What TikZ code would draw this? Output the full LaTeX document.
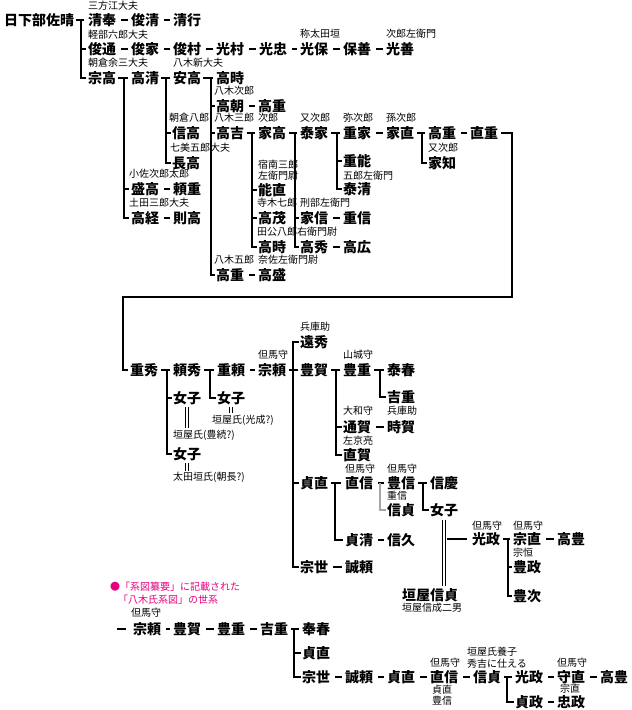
\documentclass[tikz,border=0pt]{standalone}
\usepackage{fontspec}
\setmainfont{Noto Sans CJK JP}
\definecolor{notepink}{RGB}{228,0,127}

\begin{document}
\begin{tikzpicture}[x=1pt,y=-1pt,
    nm/.style={inner sep=0pt,anchor=west,font=\fontsize{14}{14}\selectfont\bfseries},
    lbl/.style={inner sep=0pt,anchor=west,font=\fontsize{10}{10}\selectfont},
    note/.style={lbl,text=notepink},
    bar/.style={line width=2.4pt},
    tie/.style={line width=2.4pt,shorten <=5pt,shorten >=3pt},
    marry/.style={double,double distance=2.2pt,line width=0.7pt},
    grayln/.style={line width=1.8pt,draw=black!35}]
    \useasboundingbox (0,0) rectangle (632,710);

    \node[nm] (saharu) at (4,20) {日下部佐晴};
    \node[nm] (kiyotomo) at (88,20) {清奉};
    \node[nm] (toshikiyo) at (131,20) {俊清};
    \node[nm] (kiyoyuki) at (173,20) {清行};
    \node[nm] (toshimichi) at (88,49) {俊通};
    \node[nm] (toshiie) at (131,49) {俊家};
    \node[nm] (toshimura) at (173,49) {俊村};
    \node[nm] (mitsumura) at (216,49) {光村};
    \node[nm] (mitsutada) at (259,49) {光忠};
    \node[nm] (mitsuyasu) at (300,49) {光保};
    \node[nm] (yasuyoshi) at (343,49) {保善};
    \node[nm] (mitsuyoshi) at (386,49) {光善};
    \node[nm] (munetaka) at (88,78) {宗高};
    \node[nm] (takakiyo) at (131,78) {高清};
    \node[nm] (yasutaka) at (173,78) {安高};
    \node[nm] (takatoki) at (216,78) {高時};
    \node[nm] (moritaka) at (131,189) {盛高};
    \node[nm] (yorishige) at (173,189) {頼重};
    \node[nm] (takatsune) at (131,218) {高経};
    \node[nm] (noritaka) at (173,218) {則高};
    \node[nm] (nobutaka) at (172,133) {信高};
    \node[nm] (nagataka) at (172,163) {長高};
    \node[nm] (takatomo) at (216,106) {高朝};
    \node[nm] (takashigeA) at (258,106) {高重};
    \node[nm] (takayoshi) at (216,133) {高吉};
    \node[nm] (takashigeB) at (216,275) {高重};
    \node[nm] (takamori) at (258,275) {高盛};
    \node[nm] (ietaka) at (258,133) {家高};
    \node[nm] (yoshinao) at (258,190) {能直};
    \node[nm] (takamochi) at (258,218) {高茂};
    \node[nm] (takatokiB) at (258,247) {高時};
    \node[nm] (yasuie) at (300,133) {泰家};
    \node[nm] (ienobu) at (300,218) {家信};
    \node[nm] (shigenobu) at (343,218) {重信};
    \node[nm] (takahide) at (300,247) {高秀};
    \node[nm] (takahiro) at (343,247) {高広};
    \node[nm] (shigeie) at (343,133) {重家};
    \node[nm] (shigeyoshi) at (343,161) {重能};
    \node[nm] (yasukiyo) at (343,189) {泰清};
    \node[nm] (ienao) at (386,133) {家直};
    \node[nm] (takashigeC) at (428,133) {高重};
    \node[nm] (naoshige) at (470,133) {直重};
    \node[nm] (ietomo) at (428,163) {家知};

    \node[lbl] (l1) at (88,6) {三方江大夫};
    \node[lbl] (l2) at (88,35) {軽部六郎大夫};
    \node[lbl] (l3) at (300,34) {称太田垣};
    \node[lbl] (l4) at (386,34) {次郎左衛門};
    \node[lbl] (l5) at (88,63) {朝倉余三大夫};
    \node[lbl] (l6) at (173,63) {八木新大夫};
    \node[lbl] (l7) at (214,91) {八木次郎};
    \node[lbl] (l8) at (169,118) {朝倉八郎};
    \node[lbl] (l9) at (214,118) {八木三郎};
    \node[lbl] (l10) at (258,118) {次郎};
    \node[lbl] (l11) at (300,118) {又次郎};
    \node[lbl] (l12) at (343,118) {弥次郎};
    \node[lbl] (l13) at (386,118) {孫次郎};
    \node[lbl] (l14) at (170,148) {七美五郎大夫};
    \node[lbl] (l15) at (428,148) {又次郎};
    \node[lbl] (l16) at (258,165) {宿南三郎};
    \node[lbl] (l17) at (258,176) {左衛門尉};
    \node[lbl] (l18) at (129,174) {小佐次郎太郎};
    \node[lbl] (l19) at (343,176) {五郎左衛門};
    \node[lbl] (l20) at (129,203) {土田三郎大夫};
    \node[lbl] (l21) at (257,203) {寺木七郎};
    \node[lbl] (l22) at (300,203) {刑部左衛門};
    \node[lbl] (l23) at (257,232) {田公八郎右衛門尉};
    \node[lbl] (l24) at (214,260) {八木五郎};
    \node[lbl] (l25) at (258,260) {奈佐左衛門尉};

    \node[nm] (shigehide) at (130,370) {重秀};
    \node[nm] (yorihide) at (173,370) {頼秀};
    \node[nm] (joshiA) at (173,398) {女子};
    \node[nm] (joshiB) at (173,454) {女子};
    \node[nm] (shigeyori) at (217,370) {重頼};
    \node[nm] (joshiC) at (217,398) {女子};
    \node[nm] (muneyori) at (258,370) {宗頼};
    \node[nm] (tohide) at (300,342) {遠秀};
    \node[nm] (toyoyoshi) at (300,370) {豊賀};
    \node[nm] (sadanao) at (300,483) {貞直};
    \node[nm] (muneyo) at (300,567) {宗世};
    \node[nm] (toyoshige) at (343,370) {豊重};
    \node[nm] (michiyoshi) at (343,427) {通賀};
    \node[nm] (naoyoshi) at (343,455) {直賀};
    \node[nm] (tokiyoshi) at (387,427) {時賀};
    \node[nm] (yasuharu) at (387,370) {泰春};
    \node[nm] (yoshishige) at (387,397) {吉重};
    \node[nm] (naonobu) at (345,483) {直信};
    \node[nm] (sadakiyo) at (345,540) {貞清};
    \node[nm] (nobuhisa) at (387,540) {信久};
    \node[nm] (toyonobu) at (387,483) {豊信};
    \node[nm] (nobusada) at (387,510) {信貞};
    \node[nm] (nobuyoshi) at (430,483) {信慶};
    \node[nm] (joshiD) at (430,510) {女子};
    \node[nm] (kakiya) at (402,595) {垣屋信貞};
    \node[nm] (mitsumasa) at (472,539) {光政};
    \node[nm] (munenao) at (513,539) {宗直};
    \node[nm] (toyomasa) at (513,567) {豊政};
    \node[nm] (toyotsugu) at (513,596) {豊次};
    \node[nm] (takatoyo) at (557,539) {高豊};
    \node[nm] (nobuyori) at (345,567) {誠頼};

    \node[lbl] (m1) at (258,355) {但馬守};
    \node[lbl] (m2) at (300,327) {兵庫助};
    \node[lbl] (m3) at (343,355) {山城守};
    \node[lbl] (m4) at (343,411) {大和守};
    \node[lbl] (m5) at (387,411) {兵庫助};
    \node[lbl] (m6) at (343,441) {左京亮};
    \node[lbl] (spouseA) at (173,435) {垣屋氏(豊続?)};
    \node[lbl] (spouseB) at (212,420) {垣屋氏(光成?)};
    \node[lbl] (spouseC) at (173,477) {太田垣氏(朝長?)};
    \node[lbl] (m7) at (345,469) {但馬守};
    \node[lbl] (m8) at (387,469) {但馬守};
    \node[lbl] (m9) at (387,496) {重信};
    \node[lbl] (m10) at (472,526) {但馬守};
    \node[lbl] (m11) at (513,526) {但馬守};
    \node[lbl] (m12) at (513,553) {宗恒};
    \node[lbl] (m13) at (402,608) {垣屋信成二男};

    \node[note] (note1) at (110,587) {●「系図纂要」に記載された};
    \node[note] (note2) at (118,600) {「八木氏系図」の世系};

    \node[nm] (muneyoriB) at (133,629) {宗頼};
    \node[nm] (toyoyoshiB) at (173,629) {豊賀};
    \node[nm] (toyoshigeB) at (217,629) {豊重};
    \node[nm] (yoshishigeB) at (260,629) {吉重};
    \node[nm] (yasuharuB) at (302,629) {奉春};
    \node[nm] (sadanaoB) at (302,653) {貞直};
    \node[nm] (muneyoB) at (302,677) {宗世};
    \node[nm] (nobuyoriB) at (345,677) {誠頼};
    \node[nm] (sadanaoC) at (387,677) {貞直};
    \node[nm] (naonobuB) at (430,677) {直信};
    \node[nm] (nobusadaB) at (473,677) {信貞};
    \node[nm] (mitsumasaB) at (515,677) {光政};
    \node[nm] (sadamasa) at (515,702) {貞政};
    \node[nm] (morinao) at (557,677) {守直};
    \node[nm] (takatoyoB) at (600,677) {高豊};
    \node[nm] (tadamasa) at (557,702) {忠政};

    \node[lbl] (n1) at (131,613) {但馬守};
    \node[lbl] (n2) at (430,663) {但馬守};
    \node[lbl] (n3) at (432,690) {貞直};
    \node[lbl] (n4) at (432,701) {豊信};
    \node[lbl] (n5) at (467,652) {垣屋氏養子};
    \node[lbl] (n6) at (467,664) {秀吉に仕える};
    \node[lbl] (n7) at (557,663) {但馬守};
    \node[lbl] (n8) at (560,689) {宗直};

    \path[tie] (kiyotomo) edge (toshikiyo);
    \path[tie] (toshikiyo) edge (kiyoyuki);
    \path[tie] (toshimichi) edge (toshiie);
    \path[tie] (toshiie) edge (toshimura);
    \path[tie] (toshimura) edge (mitsumura);
    \path[tie] (mitsumura) edge (mitsutada);
    \path[tie] (mitsutada) edge (mitsuyasu);
    \path[tie] (mitsuyasu) edge (yasuyoshi);
    \path[tie] (yasuyoshi) edge (mitsuyoshi);
    \path[tie] (takatomo) edge (takashigeA);
    \path[tie] (moritaka) edge (yorishige);
    \path[tie] (takatsune) edge (noritaka);
    \path[tie] (takashigeB) edge (takamori);
    \path[tie] (ienobu) edge (shigenobu);
    \path[tie] (takahide) edge (takahiro);
    \path[tie] (shigeie) edge (ienao);
    \path[tie] (takashigeC) edge (naoshige);
    \path[tie] (shigeyori) edge (muneyori);
    \path[tie] (michiyoshi) edge (tokiyoshi);
    \path[tie] (naonobu) edge (toyonobu);
    \path[tie] (sadakiyo) edge (nobuhisa);
    \path[tie] (munenao) edge (takatoyo);
    \path[tie] (muneyo) edge (nobuyori);
    \path[tie] (muneyoriB) edge (toyoyoshiB);
    \path[tie] (toyoyoshiB) edge (toyoshigeB);
    \path[tie] (toyoshigeB) edge (yoshishigeB);
    \path[tie] (muneyoB) edge (nobuyoriB);
    \path[tie] (nobuyoriB) edge (sadanaoC);
    \path[tie] (sadanaoC) edge (naonobuB);
    \path[tie] (naonobuB) edge (nobusadaB);
    \path[tie] (mitsumasaB) edge (morinao);
    \path[tie] (morinao) edge (takatoyoB);
    \path[tie] (sadamasa) edge (tadamasa);
    \coordinate (lead) at (117,629);
    \path[tie,shorten <=0pt,shorten >=7pt] (lead) edge (muneyoriB);

    \coordinate (b0) at (81,20);
    \coordinate (b1) at (124,78);
    \coordinate (b2) at (166,78);
    \coordinate (b3) at (211,78);
    \coordinate (b4) at (252,133);
    \coordinate (b5) at (295,133);
    \coordinate (b6) at (337,133);
    \coordinate (b7) at (422,133);
    \coordinate (b8) at (167,370);
    \coordinate (b9) at (210,370);
    \coordinate (b10) at (293,370);
    \coordinate (b11) at (336,370);
    \coordinate (b12) at (380,370);
    \coordinate (b13) at (335,483);
    \coordinate (b14) at (423,483);
    \coordinate (b15) at (508,539);
    \coordinate (b16) at (294,629);
    \coordinate (b17) at (507,677);

    \draw[bar] ([xshift=2pt]saharu.east) -- ([xshift=-4pt]kiyotomo.west);
    \foreach \c in {toshimichi,munetaka} \draw[bar] (b0) |- ([xshift=-2pt]\c.west);
    \draw[bar] ([xshift=2pt]munetaka.east) -- ([xshift=-3pt]takakiyo.west);
    \foreach \c in {moritaka,takatsune} \draw[bar] (b1) |- ([xshift=-2pt]\c.west);
    \draw[bar] ([xshift=2pt]takakiyo.east) -- ([xshift=-3pt]yasutaka.west);
    \foreach \c in {nobutaka,nagataka} \draw[bar] (b2) |- ([xshift=-1pt]\c.west);
    \draw[bar] ([xshift=2pt]yasutaka.east) -- ([xshift=-3pt]takatoki.west);
    \foreach \c in {takatomo,takayoshi,takashigeB} \draw[bar] (b3) |- ([xshift=-1pt]\c.west);
    \draw[bar] ([xshift=3pt]takayoshi.east) -- ([xshift=-3pt]ietaka.west);
    \foreach \c in {yoshinao,takamochi,takatokiB} \draw[bar] (b4) |- ([xshift=-1pt]\c.west);
    \draw[bar] ([xshift=3pt]ietaka.east) -- ([xshift=-3pt]yasuie.west);
    \foreach \c in {ienobu,takahide} \draw[bar] (b5) |- ([xshift=-1pt]\c.west);
    \draw[bar] ([xshift=3pt]yasuie.east) -- ([xshift=-3pt]shigeie.west);
    \foreach \c in {shigeyoshi,yasukiyo} \draw[bar] (b6) |- ([xshift=-1pt]\c.west);
    \draw[bar] ([xshift=3pt]ienao.east) -- ([xshift=-3pt]takashigeC.west);
    \draw[bar] (b7) |- ([xshift=-1pt]ietomo.west);

    \coordinate (turnR) at (512,297);
    \coordinate (turnL) at (123,297);
    \draw[bar] ([xshift=3pt]naoshige.east) -| (turnR) -- (turnL) |- ([xshift=-2pt]shigehide.west);

    \draw[bar] ([xshift=3pt]shigehide.east) -- ([xshift=-3pt]yorihide.west);
    \foreach \c in {joshiA,joshiB} \draw[bar] (b8) |- ([xshift=-1pt]\c.west);
    \draw[bar] ([xshift=3pt]yorihide.east) -- ([xshift=-3pt]shigeyori.west);
    \draw[bar] (b9) |- ([xshift=-1pt]joshiC.west);
    \draw[bar] ([xshift=3pt]muneyori.east) -- ([xshift=-2pt]toyoyoshi.west);
    \foreach \c in {tohide,sadanao,muneyo} \draw[bar] (b10) |- ([xshift=-1pt]\c.west);
    \draw[bar] ([xshift=3pt]toyoyoshi.east) -- ([xshift=-3pt]toyoshige.west);
    \foreach \c in {michiyoshi,naoyoshi} \draw[bar] (b11) |- ([xshift=-1pt]\c.west);
    \draw[bar] ([xshift=3pt]toyoshige.east) -- ([xshift=-3pt]yasuharu.west);
    \draw[bar] (b12) |- ([xshift=-1pt]yoshishige.west);
    \draw[bar] ([xshift=3pt]sadanao.east) -- ([xshift=-4pt]naonobu.west);
    \draw[bar] (b13) |- ([xshift=-2pt]sadakiyo.west);
    \draw[bar] ([xshift=3pt]toyonobu.east) -- ([xshift=-3pt]nobuyoshi.west);
    \draw[bar] (b14) |- ([xshift=-1pt]joshiD.west);
    \draw[bar] ([xshift=3pt]mitsumasa.east) -- ([xshift=-3pt]munenao.west);
    \foreach \c in {toyomasa,toyotsugu} \draw[bar] (b15) |- ([xshift=-1pt]\c.west);

    \coordinate (gb) at (380,483);
    \draw[grayln] (gb) |- ([xshift=-1pt]nobusada.west);

    \draw[marry,shorten <=2pt,shorten >=2pt] (joshiA.south) -- (joshiA.south |- spouseA.north);
    \draw[marry,shorten <=2pt,shorten >=2pt] (joshiC.south) -- (joshiC.south |- spouseB.north);
    \draw[marry,shorten <=2pt,shorten >=1pt] (joshiB.south) -- (joshiB.south |- spouseC.north);
    \draw[marry,shorten <=3pt,shorten >=2pt] (joshiD.south) -- (joshiD.south |- kakiya.north);
    \draw[line width=2pt,shorten <=3pt,shorten >=5pt] (joshiD.south |- mitsumasa.west) -- (mitsumasa.west);

    \draw[bar] ([xshift=3pt]yoshishigeB.east) -- ([xshift=-3pt]yasuharuB.west);
    \foreach \c in {sadanaoB,muneyoB} \draw[bar] (b16) |- ([xshift=-1pt]\c.west);
    \draw[bar] ([xshift=3pt]nobusadaB.east) -- ([xshift=-3pt]mitsumasaB.west);
    \draw[bar] (b17) |- ([xshift=-1pt]sadamasa.west);
\end{tikzpicture}
\end{document}
